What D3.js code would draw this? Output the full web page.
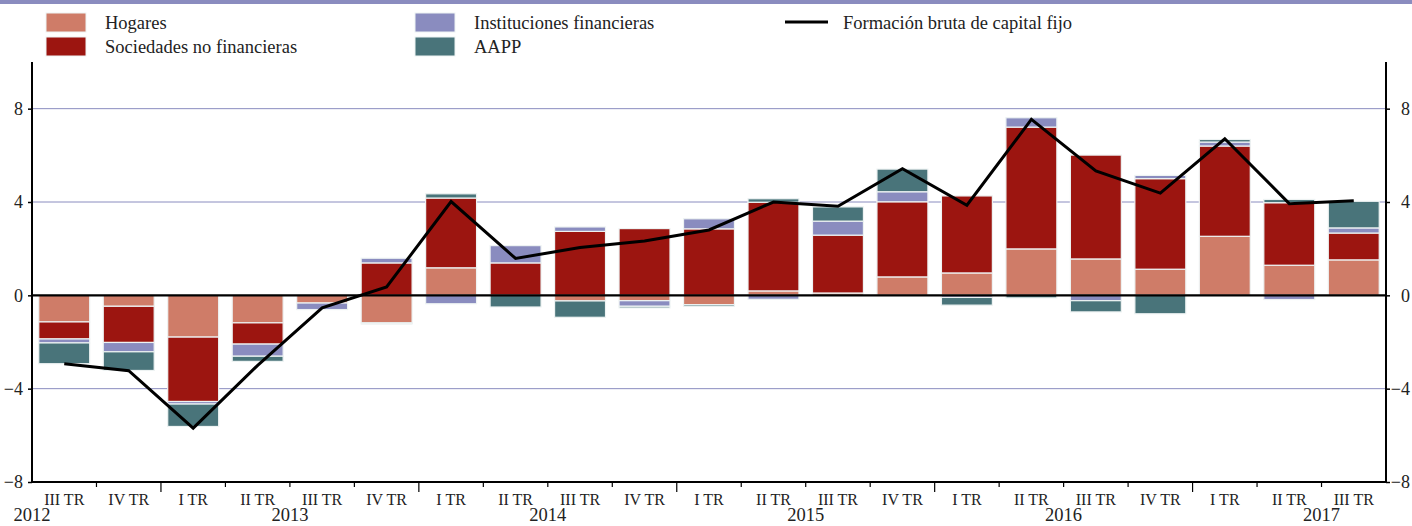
<!DOCTYPE html>
<html>
<head>
<meta charset="utf-8">
<script src="https://cdn.jsdelivr.net/npm/d3@7"></script>
<style>
body { margin: 0; background: #fff; }
</style>
</head>
<body>
<svg id="chart"></svg>
<script>
// DATA
var quarters = ["III TR","IV TR","I TR","II TR","III TR","IV TR","I TR","II TR","III TR","IV TR","I TR",
	"II TR","III TR","IV TR","I TR","II TR","III TR","IV TR","I TR","II TR","III TR"];
var years = ["2012","2013","2014","2015","2016","2017"];
var hogares =       [-1.14,-0.47,-1.79,-1.18,-0.33,-1.18, 1.18, 0.00,-0.24,-0.23,-0.40, 0.19, 0.10, 0.79, 0.96, 1.99, 1.56, 1.12, 2.53, 1.29, 1.52];
var sociedades =    [-0.73,-1.55,-2.76,-0.91, 0.00, 1.39, 2.99, 1.39, 2.74, 2.86, 2.85, 3.80, 2.48, 3.22, 3.30, 5.22, 4.45, 3.88, 3.87, 2.68, 1.15];
var instituciones = [-0.17,-0.40,-0.11,-0.52,-0.28, 0.20,-0.36, 0.74, 0.19,-0.24, 0.43,-0.17, 0.60, 0.43,-0.09, 0.40,-0.23, 0.14, 0.17,-0.18, 0.22];
var aapp =          [-0.89,-0.80,-0.96,-0.22, 0.00,-0.05, 0.18,-0.50,-0.70,-0.07,-0.07, 0.15, 0.61, 0.97,-0.33,-0.11,-0.48,-0.79, 0.11, 0.14, 1.14];
var fbcf =          [-2.93,-3.23,-5.69,-3.00,-0.54, 0.36, 4.02, 1.58, 2.05, 2.33, 2.80, 4.00, 3.82, 5.43, 3.86, 7.54, 5.33, 4.38, 6.71, 3.93, 4.05];
var yTicks = [8, 4, 0, -4, -8];

var keys = ["hogares","sociedades","instituciones","aapp"];
var names = ["Hogares","Sociedades no financieras","Instituciones financieras","AAPP"];
var colors = ["#cf7c68","#9c1510","#8a8cbf","#49747a"];

var table = quarters.map((q,i)=>({
	i: i,
	hogares: hogares[i],
	sociedades: sociedades[i],
	instituciones: instituciones[i],
	aapp: aapp[i]
}));

// SIZE
var width = 1412, height = 526;
var plotLeft = 32, plotRight = 1386, plotTop = 62, plotBottom = 482;
var serif = "'Liberation Serif', 'Times New Roman', serif";

var svg = d3.select("#chart").attr("width", width).attr("height", height)
	.attr("font-family", serif);

// SCALES
var x = d3.scaleBand().domain(d3.range(quarters.length)).range([plotLeft, plotRight])
	.paddingInner(0.21).paddingOuter(0.105);
var y = d3.scaleLinear().domain([-8, 10]).range([plotBottom, plotTop]);
var step = x.step();
var edge = (i)=> plotLeft + i * step;

// top band
svg.append("rect").attr("x", 0).attr("y", 0).attr("width", width).attr("height", 4).attr("fill", "#8a8cbf");

// grid
svg.append("g").selectAll("line")
	.data(yTicks.filter((d)=>d!==0 && d!==-8))
	.enter().append("line")
	.attr("x1", plotLeft).attr("x2", plotRight)
	.attr("y1", (d)=>y(d)).attr("y2", (d)=>y(d))
	.attr("stroke", "#8a8cbf").attr("stroke-width", 1);

// bars
var series = d3.stack().keys(keys).offset(d3.stackOffsetDiverging)(table);
svg.append("g").selectAll("g")
	.data(series)
	.enter().append("g")
	.attr("fill", (d,i)=>colors[i])
	.selectAll("rect")
	.data((d)=>d.filter((p)=>p[1] !== p[0]))
	.enter().append("rect")
	.attr("x", (d)=>x(d.data.i))
	.attr("width", x.bandwidth())
	.attr("y", (d)=>y(Math.max(d[0], d[1])))
	.attr("height", (d)=>Math.abs(y(d[0]) - y(d[1])))
	.attr("stroke", "#eef3f3").attr("stroke-width", 1.2);

// zero line
svg.append("line").attr("x1", plotLeft).attr("x2", plotRight)
	.attr("y1", y(0)).attr("y2", y(0))
	.attr("stroke", "#000").attr("stroke-width", 2.2);

// line
var line = d3.line().x((d,i)=>x(i) + x.bandwidth()/2).y((d)=>y(d));
svg.append("path").datum(fbcf)
	.attr("d", line)
	.attr("fill", "none").attr("stroke", "#000").attr("stroke-width", 3);

// AXES
var yl = svg.append("g").attr("transform", "translate(" + plotLeft + ",0)")
	.call(d3.axisLeft(y).tickValues(yTicks).tickSize(4).tickPadding(5).tickFormat(d3.format("d")));
var yr = svg.append("g").attr("transform", "translate(" + plotRight + ",0)")
	.call(d3.axisRight(y).tickValues(yTicks).tickSize(4).tickPadding(5).tickFormat(d3.format("d")));
[yl, yr].forEach((g)=>{
	g.select(".domain").attr("stroke", "#000").attr("stroke-width", 2).attr("d", "M0," + plotTop + "V" + plotBottom);
	g.selectAll(".tick line").attr("stroke", "#000").attr("stroke-width", 1.5);
	g.selectAll("text").attr("font-size", 18).attr("fill", "#222").attr("font-family", serif);
});
yr.selectAll("text").attr("text-anchor", "end").attr("x", 24);
yl.selectAll("text").attr("x", -9);

// x axis
svg.append("line").attr("x1", plotLeft).attr("x2", plotRight)
	.attr("y1", plotBottom).attr("y2", plotBottom)
	.attr("stroke", "#000").attr("stroke-width", 2.2);
svg.append("g").selectAll("line")
	.data(d3.range(1, quarters.length))
	.enter().append("line")
	.attr("x1", (i)=>edge(i)).attr("x2", (i)=>edge(i))
	.attr("y1", plotBottom).attr("y2", (i)=> plotBottom + ((i - 2) % 4 === 0 ? 10 : 5))
	.attr("stroke", "#000").attr("stroke-width", 1.2);

svg.append("g").selectAll("text")
	.data(quarters)
	.enter().append("text")
	.attr("x", (d,i)=>x(i) + x.bandwidth()/2)
	.attr("y", 505)
	.attr("text-anchor", "middle")
	.attr("font-size", 16).attr("fill", "#222")
	.text((d)=>d);

svg.append("g").selectAll("text")
	.data(years)
	.enter().append("text")
	.attr("x", (d,i)=>edge(2 + (i - 1) * 4 + 2))
	.attr("y", 521)
	.attr("text-anchor", "middle")
	.attr("font-size", 18.5).attr("fill", "#222")
	.text((d)=>d);

// LEGEND
var legendPos = [[46,13],[46,37],[415,13],[415,37]];
var legend = svg.append("g").selectAll("g")
	.data(names)
	.enter().append("g")
	.attr("transform", (d,i)=>"translate(" + legendPos[i][0] + "," + legendPos[i][1] + ")");
legend.append("rect")
	.attr("width", 40).attr("height", 19)
	.attr("fill", (d,i)=>colors[i])
	.attr("stroke", "#eef3f3").attr("stroke-width", 1);
legend.append("text")
	.attr("x", 59).attr("y", 16)
	.attr("font-size", 18.5).attr("fill", "#222")
	.text((d)=>d);

svg.append("line").attr("x1", 785).attr("x2", 828).attr("y1", 22).attr("y2", 22)
	.attr("stroke", "#000").attr("stroke-width", 3);
svg.append("text").attr("x", 843).attr("y", 29).attr("font-size", 18.5).attr("fill", "#222")
	.text("Formación bruta de capital fijo");
</script>
</body>
</html>
